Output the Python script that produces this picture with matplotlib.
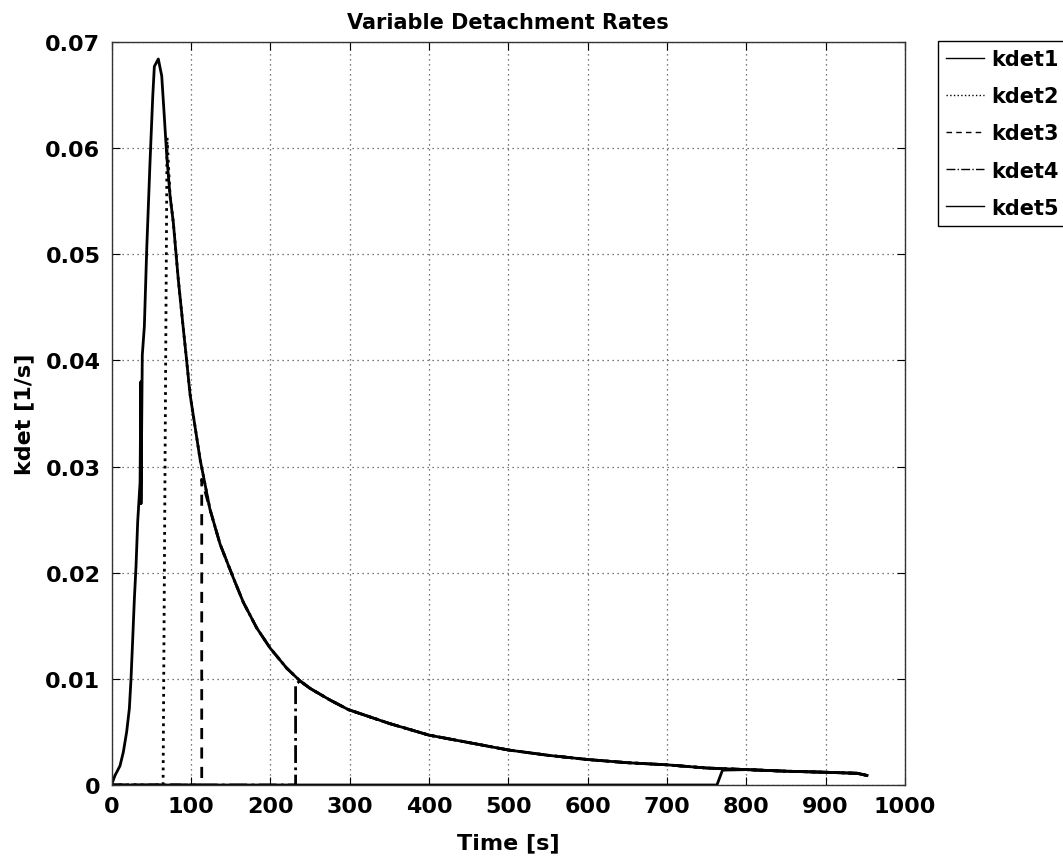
import numpy as np
import matplotlib
matplotlib.use("Agg")
import matplotlib.pyplot as plt

plt.rcParams['font.family'] = ['DejaVu Sans']
plt.rcParams['font.weight'] = 'bold'

# shared detachment-rate curve
time_s = [0, 4.4, 10.7, 14.9, 19.1, 22.5, 24.6, 26.7, 28.8, 30.9, 33.0, 36.0,
          38.0, 38.8, 41.4, 44.4, 48.5, 52.0, 54.0, 59.0, 63.3, 66.2, 69.6,
          73.8, 77.9, 84.2, 89.8, 94.0, 99.0, 111.6, 124.0, 136.8, 153.6,
          166.2, 183.0, 199.9, 220.9, 237.7, 250.3, 275.5, 298.6, 350, 400,
          450, 500, 550, 600, 650, 700, 750, 800, 850, 900, 940, 952]
kdet_curve = [0, 0.0009, 0.0018, 0.0031, 0.0050, 0.0072, 0.0100, 0.0137,
              0.0175, 0.0206, 0.0248, 0.0285, 0.0335, 0.0405, 0.0432, 0.0505,
              0.0586, 0.0649, 0.0677, 0.0684, 0.0668, 0.0634, 0.0593, 0.0555,
              0.0530, 0.0476, 0.0435, 0.0405, 0.0368, 0.0307, 0.0260, 0.0227,
              0.0195, 0.0172, 0.0148, 0.0129, 0.0110, 0.0098, 0.0091, 0.0080,
              0.0071, 0.0058, 0.0047, 0.0040, 0.0033, 0.0028, 0.0024, 0.0021,
              0.0019, 0.0016, 0.00145, 0.0013, 0.0012, 0.0011, 0.0009]

labels = ['kdet1', 'kdet2', 'kdet3', 'kdet4', 'kdet5']
styles = ['-', ':', (0, (4, 3)), '-.', '-']

# where each series jumps off zero: (time, value at top of jump)
start_time = [None, 65.0, 113.7, 232.0, 763.0]
jump_top_t = [None, 70.0, 113.7, 232.0, 770.0]
jump_top_k = [None, 0.0610, 0.0288, 0.0095, 0.0014]

# short spike in kdet1 near t = 37 s
spike_t = [36.0, 37.0, 37.2]
spike_k = [0.0285, 0.0380, 0.0265]

xticks = [0, 100, 200, 300, 400, 500, 600, 700, 800, 900, 1000]
yticks = [0, 0.01, 0.02, 0.03, 0.04, 0.05, 0.06, 0.07]
ytick_labels = ['0', '0.01', '0.02', '0.03', '0.04', '0.05', '0.06', '0.07']

t = np.array(time_s)
k = np.array(kdet_curve)

fig = plt.figure(figsize=(10.63, 8.62), dpi=100)
ax = fig.add_axes([111.5 / 1063, 76 / 862, 793.5 / 1063, 743 / 862])

for i, lab in enumerate(labels):
    if start_time[i] is None:
        before = t < spike_t[0]
        after = t > spike_t[-1]
        x = np.concatenate([t[before], spike_t, t[after]])
        y = np.concatenate([k[before], spike_k, k[after]])
    else:
        after = t > jump_top_t[i] + 2
        x = np.concatenate([[0, start_time[i], jump_top_t[i]], t[after]])
        y = np.concatenate([[0, 0, jump_top_k[i]], k[after]])
    ax.plot(x, y, color='black', linestyle=styles[i], linewidth=2.0, label=lab)

ax.set_xlim(0, 1000)
ax.set_ylim(0, 0.07)
ax.set_xticks(xticks)
ax.set_yticks(yticks)
ax.set_yticklabels(ytick_labels)
ax.tick_params(direction='in', top=True, right=True, length=6, width=0.8,
               labelsize=16, pad=8, colors='black')
ax.grid(True, linestyle=(0, (1, 3)), color='0.3', linewidth=0.9)
ax.set_axisbelow(True)
for sp in ax.spines.values():
    sp.set_color('#333333')
    sp.set_linewidth(1.0)

ax.set_title('Variable Detachment Rates', fontsize=15, fontweight='bold', pad=10)
ax.set_xlabel('Time [s]', fontsize=16, fontweight='bold', labelpad=12)
ax.set_ylabel('kdet [1/s]', fontsize=16, fontweight='bold', labelpad=8)

leg = ax.legend(loc='upper left', bbox_to_anchor=(938 / 1063, 1 - 42 / 862),
                bbox_transform=fig.transFigure, borderaxespad=0, fancybox=False,
                edgecolor='black', framealpha=1, handlelength=1.8,
                handletextpad=0.35, borderpad=0.4, labelspacing=0.82,
                prop={'size': 15, 'weight': 'bold'})
leg.get_frame().set_linewidth(1.0)
for line in leg.get_lines():
    line.set_linewidth(1.0)

fig.savefig('out.png', dpi=100)
